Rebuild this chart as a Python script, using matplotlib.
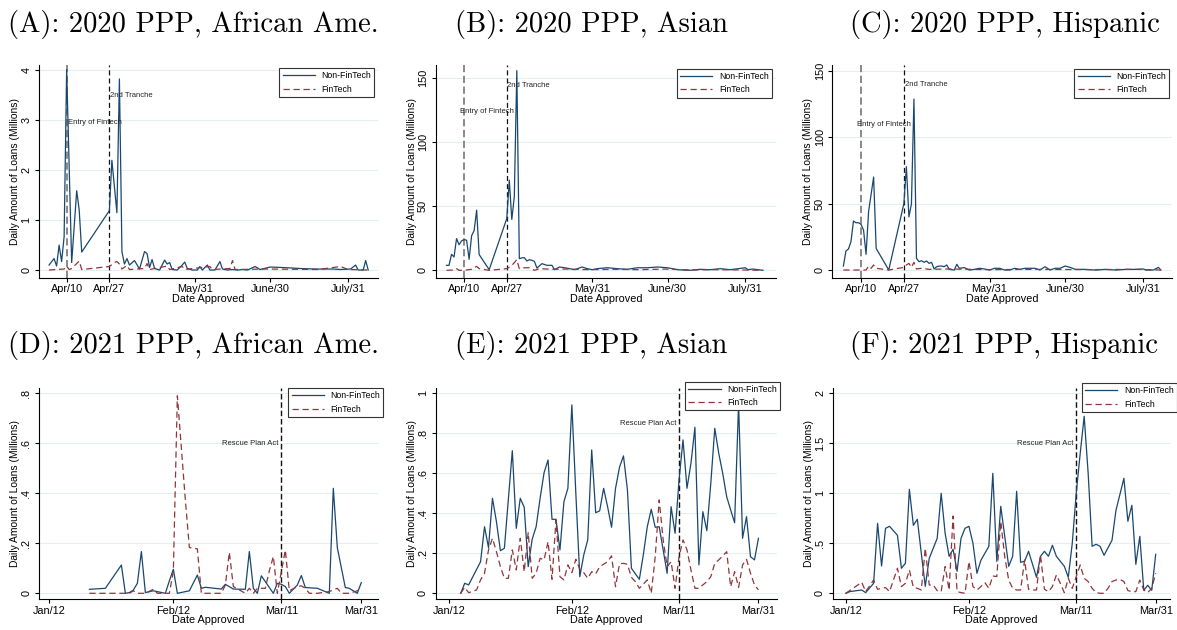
import matplotlib
matplotlib.use("Agg")
import matplotlib.pyplot as plt

# ---------------- data (day offsets) ----------------
# top row: day 0 = Apr 10, 2020 ; bottom row: day 0 = Jan 12, 2021
top_tick_days = [0, 17, 51, 81, 112]
top_tick_labels = ["Apr/10", "Apr/27", "May/31", "June/30", "July/31"]
bot_tick_days = [0, 31, 58, 78]
bot_tick_labels = ["Jan/12", "Feb/12", "Mar/11", "Mar/31"]

# (A) 2020 African American
a_nf_day = [-7, -5, -4, -3, -2, -1, 0, 2, 4, 5,
            6, 17, 18, 20, 21, 22, 23, 24, 25, 27,
            29, 31, 32, 33, 34, 35, 37, 39, 40, 41,
            42, 44, 46, 47, 48, 50, 52, 53, 54, 56,
            57, 59, 61, 62, 64, 66, 68, 70, 72, 75,
            77, 81, 86, 93, 99, 106, 109, 113, 115, 116,
            118, 119, 120]
a_nf_val = [0.10, 0.23, 0.08, 0.50, 0.17, 0.67, 4.02, 0.15, 1.59, 1.20,
            0.36, 1.19, 2.20, 1.15, 3.83, 0.37, 0.12, 0.23, 0.10, 0.19,
            0.02, 0.37, 0.33, 0.05, 0.21, 0.03, 0.00, 0.20, 0.12, 0.15,
            0.01, 0.00, 0.10, 0.16, 0.03, 0.00, 0.00, 0.07, 0.00, 0.10,
            0.00, 0.00, 0.17, 0.02, 0.00, 0.01, 0.00, 0.01, 0.00, 0.07,
            0.01, 0.06, 0.05, 0.03, 0.02, 0.02, 0.01, 0.02, 0.10, 0.00,
            0.00, 0.19, 0.00]
a_f_day = [-7, -1, 0, 1, 2, 5, 6, 17, 19, 20,
           21, 22, 24, 25, 31, 32, 33, 40, 41, 46,
           47, 57, 58, 65, 66, 67, 80, 100, 109, 112,
           120]
a_f_val = [0.0, 0.02, 0.08, 0.01, 0.03, 0.18, 0.01, 0.07, 0.15, 0.17,
           0.12, 0.02, 0.09, 0.01, 0.03, 0.13, 0.01, 0.08, 0.01, 0.07,
           0.01, 0.07, 0.01, 0.03, 0.19, 0.01, 0.02, 0.01, 0.07, 0.01,
           0.0]

# (B) 2020 Asian
b_nf_day = [-7, -6, -5, -4, -3, -2, -1, 0, 1, 2,
            3, 4, 5, 6, 10, 17, 18, 19, 20, 21,
            22, 23, 24, 25, 26, 27, 28, 29, 31, 33,
            35, 36, 38, 40, 42, 44, 47, 49, 51, 53,
            57, 61, 65, 69, 73, 77, 81, 85, 90, 94,
            98, 102, 106, 112, 113, 115, 119]
b_nf_val = [3.9, 3.9, 12.5, 10.4, 24.8, 20, 23, 24, 23.5, 8.6,
            27, 31, 47, 12.3, 0.5, 40.4, 70.4, 39.7, 57.4, 156,
            9.1, 9.7, 9.9, 7.3, 8.3, 7.8, 7, 1.8, 5.2, 3.9,
            3.9, 0.5, 2.6, 2, 1.3, 0.5, 2.6, 1.3, 0.5, 1.3,
            2, 1.3, 0.8, 2, 2, 2.6, 2, 0.5, 0, 0.8,
            0.5, 1.3, 0.5, 2, 0.5, 1, 0]
b_f_day = [-7, -4, -3, -2, 0, 3, 5, 6, 10, 17,
           18, 19, 20, 21, 22, 24, 26, 28, 30, 35,
           40, 50, 60, 70, 80, 90, 100, 110, 119]
b_f_val = [0, 0.3, 1.3, 0, 0, 0.8, 3.1, 1.3, 0, 1.3,
           2.5, 3.9, 6, 8.3, 1.3, 2, 2, 0, 1.3, 0.8,
           1.0, 0.5, 0.8, 0.5, 1.0, 0.3, 0.5, 0.3, 0]

# (C) 2020 Hispanic
c_nf_day = [-7, -6, -5, -4, -3, -2, -1, 0, 1, 2,
            3, 4, 5, 6, 11, 17, 18, 19, 20, 21,
            22, 23, 24, 25, 26, 27, 28, 29, 30, 31,
            32, 33, 34, 35, 37, 38, 39, 41, 43, 45,
            47, 49, 51, 53, 55, 57, 59, 61, 63, 65,
            69, 71, 73, 75, 77, 79, 81, 83, 85, 89,
            93, 97, 101, 105, 109, 112, 113, 116, 118, 119]
c_nf_val = [3, 14.3, 15.8, 21.3, 36.9, 35.6, 35.6, 34.4, 30, 11.8,
            44, 57, 70, 16.3, 0, 50, 77.8, 40, 49.7, 128.7,
            8.8, 6.3, 7, 5.8, 6.8, 5, 5.8, 0.8, 2.5, 3,
            3, 2.5, 3.8, 0.5, 0, 4.3, 1.3, 1.8, 0, 0.5,
            1.3, 0.8, 0, 1.3, 1.3, 0, 0, 1.3, 0.5, 1.3,
            1.3, 0, 2.5, 0, 1.3, 1.3, 3, 2, 0.5, 0.5,
            0, 0.5, 0, 0.5, 0.5, 0.8, 0, 0, 2, 0]
c_f_day = [-7, 2, 3, 4, 5, 6, 11, 17, 18, 19,
           20, 21, 22, 24, 27, 35, 50, 70, 90, 110,
           119]
c_f_val = [0, 0, 3, 1.3, 3.8, 1.3, 0, 2, 3.8, 5,
           2, 5.8, 0.8, 1.3, 0.5, 0.8, 0.3, 0.5, 0.3, 0.5,
           0]

# (D) 2021 African American
d_nf_day = [10, 14, 18, 19, 20, 21, 22, 23, 24, 26,
            29, 30, 31, 32, 35, 37, 38, 39, 43, 44,
            46, 49, 50, 51, 52, 53, 56, 57, 58, 59,
            60, 62, 63, 64, 67, 70, 71, 72, 74, 75,
            77, 78]
d_nf_val = [0.016, 0.02, 0.113, 0.0, 0.003, 0.013, 0.04, 0.167, 0.003, 0.01,
            0.0, 0.05, 0.096, 0.0, 0.01, 0.073, 0.02, 0.024, 0.017, 0.036,
            0.017, 0.016, 0.167, 0.02, 0.0, 0.07, 0.0, 0.04, 0.036, 0.027,
            0.0, 0.033, 0.071, 0.023, 0.02, 0.0, 0.42, 0.183, 0.023, 0.02,
            0.0, 0.043]
d_f_day = [10, 14, 18, 20, 21, 22, 24, 26, 27, 29,
           30, 31, 32, 34, 35, 37, 38, 39, 43, 44,
           45, 46, 49, 50, 51, 52, 54, 55, 56, 57,
           59, 60, 62, 63, 64, 65, 67, 70, 72, 73,
           75, 77, 78]
d_f_val = [0, 0, 0, 0, 0.01, 0, 0, 0.016, 0, 0,
           0, 0.09, 0.79, 0.373, 0.183, 0.178, 0, 0, 0, 0.033,
           0.164, 0.027, 0, 0.02, 0, 0.02, 0.02, 0.09, 0.147, 0,
           0.173, 0.01, 0.027, 0.03, 0.02, 0, 0, 0.007, 0.02, 0,
           0, 0.01, 0.02]

# (E) 2021 Asian
e_nf_day = [3, 4, 5, 8, 9, 10, 11, 12, 13, 14,
            16, 17, 18, 19, 20, 21, 22, 23, 24, 25,
            26, 27, 28, 29, 30, 31, 32, 33, 34, 35,
            36, 37, 38, 39, 40, 41, 42, 43, 44, 45,
            46, 48, 49, 50, 51, 52, 53, 54, 55, 56,
            57, 58, 59, 60, 61, 62, 63, 64, 65, 66,
            67, 68, 69, 70, 71, 72, 73, 74, 75, 76,
            77, 78]
e_nf_val = [0.0, 0.05, 0.042, 0.158, 0.333, 0.228, 0.475, 0.358, 0.213, 0.225,
            0.713, 0.325, 0.475, 0.43, 0.133, 0.27, 0.333, 0.475, 0.603, 0.667,
            0.37, 0.37, 0.217, 0.458, 0.525, 0.942, 0.5, 0.083, 0.192, 0.267,
            0.717, 0.403, 0.412, 0.525, 0.433, 0.33, 0.525, 0.63, 0.687, 0.517,
            0.125, 0.07, 0.192, 0.333, 0.42, 0.33, 0.333, 0.217, 0.1, 0.433,
            0.3, 0.567, 0.767, 0.525, 0.65, 0.83, 0.142, 0.408, 0.313, 0.55,
            0.825, 0.70, 0.6, 0.483, 0.417, 0.353, 0.95, 0.275, 0.383, 0.183,
            0.167, 0.275]
e_f_day = [3, 4, 5, 7, 8, 9, 10, 11, 12, 13,
           14, 15, 16, 17, 18, 19, 20, 21, 22, 23,
           24, 25, 26, 27, 28, 29, 30, 31, 32, 33,
           34, 35, 36, 37, 38, 40, 41, 42, 43, 44,
           45, 46, 47, 48, 50, 51, 52, 53, 54, 55,
           56, 57, 58, 59, 60, 61, 62, 63, 64, 65,
           66, 67, 68, 69, 70, 71, 72, 73, 74, 75,
           76, 77, 78]
e_f_val = [0.0, 0.03, 0.003, 0.017, 0.067, 0.1, 0.217, 0.275, 0.208, 0.133,
           0.075, 0.075, 0.217, 0.117, 0.275, 0.108, 0.303, 0.075, 0.1, 0.175,
           0.167, 0.258, 0.07, 0.367, 0.083, 0.067, 0.142, 0.103, 0.17, 0.12,
           0.103, 0.075, 0.108, 0.097, 0.133, 0.158, 0.187, 0.033, 0.147, 0.15,
           0.145, 0.08, 0.058, 0.025, 0.067, 0.0, 0.183, 0.467, 0.267, 0.133,
           0.158, 0.025, 0.183, 0.267, 0.217, 0.117, 0.025, 0.025, 0.042, 0.058,
           0.083, 0.15, 0.167, 0.187, 0.208, 0.033, 0.108, 0.03, 0.142, 0.17,
           0.1, 0.042, 0.017]

# (F) 2021 Hispanic
f_nf_day = [0, 1, 4, 5, 7, 8, 9, 10, 11, 13,
            14, 15, 16, 17, 18, 19, 20, 21, 22, 23,
            24, 25, 26, 27, 28, 29, 30, 31, 32, 33,
            34, 36, 37, 38, 39, 41, 42, 43, 44, 45,
            46, 48, 49, 50, 51, 52, 53, 55, 56, 57,
            58, 59, 60, 61, 62, 63, 64, 65, 67, 68,
            70, 71, 72, 73, 74, 75, 76, 77, 78]
f_nf_val = [0.0, 0.017, 0.033, 0.007, 0.1, 0.7, 0.273, 0.65, 0.67, 0.58,
            0.25, 0.3, 1.04, 0.68, 0.74, 0.4, 0.07, 0.35, 0.45, 0.55,
            1.0, 0.6, 0.37, 0.44, 0.22, 0.55, 0.65, 0.67, 0.5, 0.2,
            0.33, 0.47, 1.2, 0.32, 0.87, 0.27, 0.37, 1.02, 0.31, 0.32,
            0.42, 0.16, 0.37, 0.42, 0.37, 0.48, 0.37, 0.27, 0.16, 0.5,
            1.0, 1.4, 1.77, 1.2, 0.47, 0.49, 0.47, 0.38, 0.53, 0.83,
            1.15, 0.72, 0.88, 0.29, 0.57, 0.03, 0.08, 0.03, 0.39]
f_f_day = [0, 4, 5, 7, 8, 9, 10, 11, 13, 14,
           15, 16, 17, 18, 19, 20, 21, 22, 23, 24,
           25, 26, 27, 28, 29, 30, 31, 32, 33, 34,
           35, 36, 37, 38, 39, 40, 41, 42, 43, 44,
           45, 46, 47, 48, 49, 50, 51, 52, 53, 54,
           55, 56, 57, 58, 59, 60, 61, 62, 63, 64,
           65, 66, 67, 68, 69, 70, 71, 72, 73, 74,
           75, 76, 77, 78]
f_f_val = [0.0, 0.11, 0.017, 0.133, 0.04, 0.05, 0.057, 0.017, 0.25, 0.067,
           0.1, 0.233, 0.06, 0.05, 0.033, 0.45, 0.083, 0.083, 0.027, 0.017,
           0.267, 0.033, 0.773, 0.017, 0.007, 0.0, 0.317, 0.067, 0.033, 0.067,
           0.107, 0.05, 0.173, 0.167, 0.717, 0.367, 0.133, 0.05, 0.033, 0.033,
           0.333, 0.04, 0.033, 0.033, 0.383, 0.04, 0.017, 0.067, 0.183, 0.1,
           0.007, 0.15, 0.05, 0.167, 0.283, 0.15, 0.117, 0.05, 0.007, 0.0,
           0.0, 0.05, 0.117, 0.133, 0.14, 0.117, 0.027, 0.017, 0.017, 0.133,
           0.033, 0.007, 0.05, 0.2]

titles = ["(A): 2020 PPP, African Ame.", "(B): 2020 PPP, Asian", "(C): 2020 PPP, Hispanic",
          "(D): 2021 PPP, African Ame.", "(E): 2021 PPP, Asian", "(F): 2021 PPP, Hispanic"]

# ---------------- styling ----------------
W, H = 1177, 630
fig = plt.figure(figsize=(W / 100, H / 100), dpi=100)
fig.patch.set_facecolor("white")

NAVY = "#1a476f"
MAROON = "#90353b"
GRID = "#e4eef0"
SANS = "Liberation Sans"
TITLE_FONT = "cmr10"


def panel(box, xlim, ylim, yticks, ylabels, xticks, xlabels,
          nf_d, nf_v, f_d, f_v, vlines, notes, leg_tr):
    l, t, r, b = box
    ax = fig.add_axes([l / W, 1 - b / H, (r - l) / W, (b - t) / H])
    ax.set_xlim(xlim)
    ax.set_ylim(ylim)
    for y in yticks:
        ax.axhline(y, color=GRID, lw=0.8, zorder=0)
    ax.plot(nf_d, nf_v, color=NAVY, lw=0.9, label="Non-FinTech", zorder=3)
    ax.plot(f_d, f_v, color=MAROON, lw=0.9, ls=(0, (5, 3)), label="FinTech", zorder=3)
    for x, col, lw, dash in vlines:
        ax.axvline(x, color=col, lw=lw, ls=(0, dash), zorder=2)
    for x, y, s, ha in notes:
        ax.text(x, y, s, ha=ha, va="center", fontsize=5.5, family=SANS, color="#222222")
    for side in ("top", "right"):
        ax.spines[side].set_visible(False)
    for side in ("left", "bottom"):
        ax.spines[side].set_linewidth(0.8)
    ax.set_yticks(yticks)
    ax.set_yticklabels(ylabels, rotation=90, va="center", family=SANS, fontsize=7.8)
    ax.set_xticks(xticks)
    ax.set_xticklabels(xlabels, family=SANS, fontsize=7.8)
    ax.tick_params(axis="both", direction="out", length=3, width=0.8)
    ax.tick_params(axis="y", pad=2.5)
    ax.tick_params(axis="x", pad=1.5)
    ax.set_ylabel("Daily Amount of Loans (Millions)", family=SANS, fontsize=7.4, labelpad=1)
    ax.set_xlabel("Date Approved", family=SANS, fontsize=7.8, labelpad=-0.5)
    leg = ax.legend(loc="upper right", bbox_to_anchor=(leg_tr[0] / W, 1 - leg_tr[1] / H),
                    bbox_transform=fig.transFigure, borderaxespad=0, frameon=True,
                    fancybox=False, edgecolor="#333333", framealpha=1,
                    prop={"family": SANS, "size": 6.3}, handlelength=3.7,
                    labelspacing=0.5, borderpad=0.35, handletextpad=0.75)
    leg.get_frame().set_linewidth(0.8)
    return ax


GRAYV = ("#808080", 1.3, (4, 2))
BLACKV = ("#111111", 0.9, (4, 2.5))

# top row
panel((39, 65, 378, 278), (-11.0, 123.9), (-0.16, 4.11),
      [0, 1, 2, 3, 4], ["0", "1", "2", "3", "4"], top_tick_days, top_tick_labels,
      a_nf_day, a_nf_val, a_f_day, a_f_val,
      [(0,) + GRAYV, (17,) + BLACKV],
      [(0.4, 2.95, "Entry of Fintech", "left"), (17.3, 3.49, "2nd Tranche", "left")],
      (374.3, 68.3))
panel((435.7, 65, 776, 278), (-11.3, 124.2), (-6.0, 160.4),
      [0, 50, 100, 150], ["0", "50", "100", "150"], top_tick_days, top_tick_labels,
      b_nf_day, b_nf_val, b_f_day, b_f_val,
      [(0,) + GRAYV, (17,) + BLACKV],
      [(-1.6, 124.4, "Entry of Fintech", "left"), (17.2, 144.7, "2nd Tranche", "left")],
      (771.7, 69))
panel((832.3, 65, 1172, 278), (-11.4, 123.4), (-6.0, 154.3),
      [0, 50, 100, 150], ["0", "50", "100", "150"], top_tick_days, top_tick_labels,
      c_nf_day, c_nf_val, c_f_day, c_f_val,
      [(0,) + GRAYV, (17,) + BLACKV],
      [(-1.7, 109.6, "Entry of Fintech", "left"), (17.3, 139.7, "2nd Tranche", "left")],
      (1169.3, 69))

# bottom row
MARV = ("#111111", 1.0, (4, 2))
panel((39, 388.3, 377.7, 599.3), (-2.6, 82.1), (-0.024, 0.82),
      [0, 0.2, 0.4, 0.6, 0.8], ["0", ".2", ".4", ".6", ".8"], bot_tick_days, bot_tick_labels,
      d_nf_day, d_nf_val, d_f_day, d_f_val,
      [(58,) + MARV], [(57.2, 0.6, "Rescue Plan Act", "right")],
      (383.3, 388.3))
panel((435.7, 388.3, 776.7, 599.3), (-3.3, 82.6), (-0.03, 1.025),
      [0, 0.2, 0.4, 0.6, 0.8, 1.0], ["0", ".2", ".4", ".6", ".8", "1"], bot_tick_days, bot_tick_labels,
      e_nf_day, e_nf_val, e_f_day, e_f_val,
      [(58,) + MARV], [(57.4, 0.85, "Rescue Plan Act", "right")],
      (780, 381.7))
panel((832.7, 388.3, 1170, 599.3), (-3.3, 81.6), (-0.06, 2.05),
      [0, 0.5, 1.0, 1.5, 2.0], ["0", ".5", "1", "1.5", "2"], bot_tick_days, bot_tick_labels,
      f_nf_day, f_nf_val, f_f_day, f_f_val,
      [(58,) + MARV], [(57.3, 1.5, "Rescue Plan Act", "right")],
      (1176.7, 383.3))

# panel titles (baseline positions in px)
title_pos = [(8, 31.7), (455, 31.7), (850, 31.7), (8, 353.3), (455, 353.3), (850, 353.3)]
for (x, y), s in zip(title_pos, titles):
    fig.text(x / W, 1 - y / H, s, family=TITLE_FONT, fontsize=20.6, ha="left", va="baseline")

fig.savefig("out.png", dpi=100, facecolor="white")
